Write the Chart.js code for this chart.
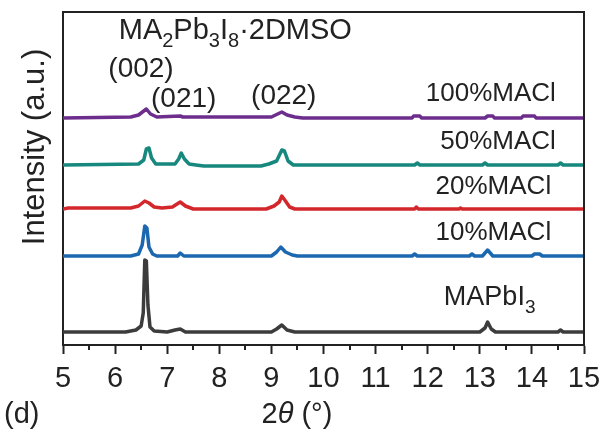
<!DOCTYPE html>
<html>
<head>
<meta charset="utf-8">
<script src="https://cdn.jsdelivr.net/npm/chart.js@4"></script>
<style>
  html, body { margin: 0; padding: 0; background: #fff; }
  #wrap { width: 601px; height: 443px; }
</style>
</head>
<body>
<div id="wrap"><canvas id="xrdChart" width="601" height="443"></canvas></div>
<script>
// 2theta / intensity pairs (offset stacked, arbitrary units)
const mapbi3 = [[5,13],[6.2,13],[6.4,15],[6.5,19],[6.54,32],[6.57,85],[6.6,84],[6.63,40],[6.67,18],[6.75,14],[7.0,13],
  [7.15,15],[7.25,16],[7.35,13],[9.0,13],[9.1,16],[9.2,20],[9.3,15],[9.45,13],[11.5,13],[13.0,13],[13.1,17],
  [13.15,23],[13.22,16],[13.3,13],[14.5,13],[14.55,15],[14.6,13],[15,13]];
const macl10 = [[5,89],[6.3,89],[6.45,91],[6.52,100],[6.57,119],[6.61,117],[6.65,98],[6.72,91],[6.8,89],[7.2,89],
  [7.25,92],[7.32,89],[9.0,89],[9.1,93],[9.18,98],[9.27,93],[9.4,90],[9.5,89],[11.7,89],[11.75,91],[11.8,89],
  [12.8,89],[12.85,91],[12.9,89],[13.05,89],[13.15,95],[13.25,89],[14.0,89],[14.05,91],[14.15,91],[14.2,89],[15,89]];
const macl20 = [[5,136],[5.1,137],[6.3,137],[6.45,139],[6.57,144],[6.65,142],[6.75,138],[6.9,137],[7.1,138],
  [7.25,143],[7.35,139],[7.5,136],[8.9,136],[9.05,139],[9.15,143],[9.2,149],[9.27,144],[9.35,138],[9.45,136],
  [11.75,136],[11.78,138],[11.82,136],[12.6,136],[12.63,137],[12.66,136],[15,136]];
const macl50 = [[5,180],[6.45,181],[6.55,185],[6.6,196],[6.65,197],[6.7,187],[6.78,181],[7.15,181],[7.22,186],
  [7.27,192],[7.33,186],[7.42,181],[7.55,180],[7.7,179],[8.8,179],[8.95,181],[9.1,184],[9.2,195],[9.25,194],
  [9.32,184],[9.42,180],[11.75,180],[11.8,182],[11.85,180],[13.05,180],[13.1,182],[13.15,180],[14.5,180],
  [14.55,182],[14.6,180],[15,180]];
const macl100 = [[5,227],[6.3,228],[6.45,230],[6.6,236],[6.68,231],[6.8,228],[7.25,229],[7.3,228],[9.0,228],
  [9.12,231],[9.2,233],[9.3,230],[9.45,228],[9.6,227],[11.7,227],[11.73,229],[11.85,229],[11.88,227],[13.1,227],
  [13.15,229],[13.25,229],[13.28,227],[13.8,227],[13.83,229],[14.05,229],[14.08,227],[15,227]];

const xTicks = [5, 6, 7, 8, 9, 10, 11, 12, 13, 14, 15];

// text labels: segments are [text, isSubscript]
const labels = [
  { seg: [['MA',0],['2',1],['Pb',0],['3',1],['I',0],['8',1],['\u00b72DMSO',0]], x: 6.07, y: 306, align: 'left', size: 29 },
  { seg: [['(002)',0]], x: 5.87, y: 268, align: 'left', size: 28 },
  { seg: [['(021)',0]], x: 6.69, y: 238, align: 'left', size: 28 },
  { seg: [['(022)',0]], x: 8.61, y: 241, align: 'left', size: 28 },
  { seg: [['100%MACl',0]], x: 14.46, y: 244, align: 'right', size: 26 },
  { seg: [['50%MACl',0]], x: 14.46, y: 196, align: 'right', size: 26 },
  { seg: [['20%MACl',0]], x: 14.37, y: 151, align: 'right', size: 26 },
  { seg: [['10%MACl',0]], x: 14.37, y: 105, align: 'right', size: 26 },
  { seg: [['MAPbI',0],['3',1]], x: 12.31, y: 40, align: 'left', size: 27 }
];

const FONT = '"Liberation Sans", Arial, sans-serif';
const INK = '#222';

function toXY(arr) {
  return arr.map(p => ({ x: p[0], y: p[1] }));
}

function drawRich(ctx, seg, x, y, align, size) {
  const subSize = Math.round(size * 0.7);
  let w = 0;
  seg.forEach(s => {
    ctx.font = (s[1] === 1 ? subSize : size) + 'px ' + FONT;
    if (s[1] === 2) ctx.font = 'italic ' + ctx.font;
    w += ctx.measureText(s[0]).width;
  });
  let cx = align === 'right' ? x - w : align === 'center' ? x - w / 2 : x;
  ctx.textAlign = 'left';
  ctx.textBaseline = 'alphabetic';
  seg.forEach(s => {
    ctx.font = (s[1] === 1 ? subSize : size) + 'px ' + FONT;
    if (s[1] === 2) ctx.font = 'italic ' + ctx.font;
    ctx.fillText(s[0], cx, s[1] === 1 ? y + size * 0.28 : y);
    cx += ctx.measureText(s[0]).width;
  });
}

const decor = {
  id: 'decor',
  afterDraw(chart) {
    const ctx = chart.ctx;
    const a = chart.chartArea;
    const xs = chart.scales.x, ys = chart.scales.y;
    ctx.save();
    ctx.strokeStyle = INK;
    ctx.lineWidth = 2;
    // top and right frame
    ctx.beginPath();
    ctx.moveTo(a.left, a.top);
    ctx.lineTo(a.right, a.top);
    ctx.lineTo(a.right, a.bottom);
    ctx.stroke();
    // minor ticks
    ctx.beginPath();
    for (let v = 5.5; v < 15; v += 1) {
      const px = Math.round(xs.getPixelForValue(v));
      ctx.moveTo(px, a.bottom);
      ctx.lineTo(px, a.bottom + 5);
    }
    ctx.stroke();
    ctx.fillStyle = INK;
    labels.forEach(l => {
      drawRich(ctx, l.seg, xs.getPixelForValue(l.x), ys.getPixelForValue(l.y), l.align, l.size);
    });
    // axis titles
    ctx.font = '31px ' + FONT;
    ctx.save();
    ctx.translate(35, 147);
    ctx.rotate(-Math.PI / 2);
    ctx.textAlign = 'center';
    ctx.textBaseline = 'middle';
    ctx.fillText('Intensity (a.u.)', 0, 0);
    ctx.restore();
    drawRich(ctx, [['2',0], ['\u03b8',2], [' (\u00b0)',0]], xs.getPixelForValue(9.49), 423, 'center', 29);
    drawRich(ctx, [['(d)',0]], 4, 423, 'left', 29);
    ctx.restore();
  }
};

const ctxXrd = document.getElementById('xrdChart').getContext('2d');
const xrdChart = new Chart(ctxXrd, {
  type: 'line',
  data: {
    datasets: [
      { label: 'MAPbI3', data: toXY(mapbi3), borderColor: '#3c3c3c' },
      { label: '10%MACl', data: toXY(macl10), borderColor: '#1c68b0' },
      { label: '20%MACl', data: toXY(macl20), borderColor: '#d3272c' },
      { label: '50%MACl', data: toXY(macl50), borderColor: '#16887e' },
      { label: '100%MACl', data: toXY(macl100), borderColor: '#6c2d8c' }
    ]
  },
  options: {
    responsive: false,
    animation: false,
    elements: {
      line: { borderWidth: 3.5, tension: 0, borderJoinStyle: 'round' },
      point: { radius: 0 }
    },
    layout: { padding: { top: 12, right: 17, left: 0, bottom: 0 } },
    plugins: { legend: { display: false }, tooltip: { enabled: false } },
    scales: {
      x: {
        type: 'linear',
        min: 5,
        max: 15,
        afterBuildTicks: s => { s.ticks = xTicks.map(v => ({ value: v })); },
        afterFit: s => { s.height = 98; s.paddingLeft = 0; s.paddingRight = 0; },
        ticks: { color: INK, font: { size: 29, family: FONT }, padding: 8, maxRotation: 0 },
        grid: { drawOnChartArea: false, drawTicks: true, tickLength: 9, tickWidth: 2, tickColor: INK },
        border: { color: INK, width: 2 }
      },
      y: {
        min: 0,
        max: 333,
        afterFit: s => { s.width = 63; },
        ticks: { display: false },
        grid: { display: false },
        border: { color: INK, width: 2 }
      }
    }
  },
  plugins: [decor]
});
</script>
</body>
</html>
